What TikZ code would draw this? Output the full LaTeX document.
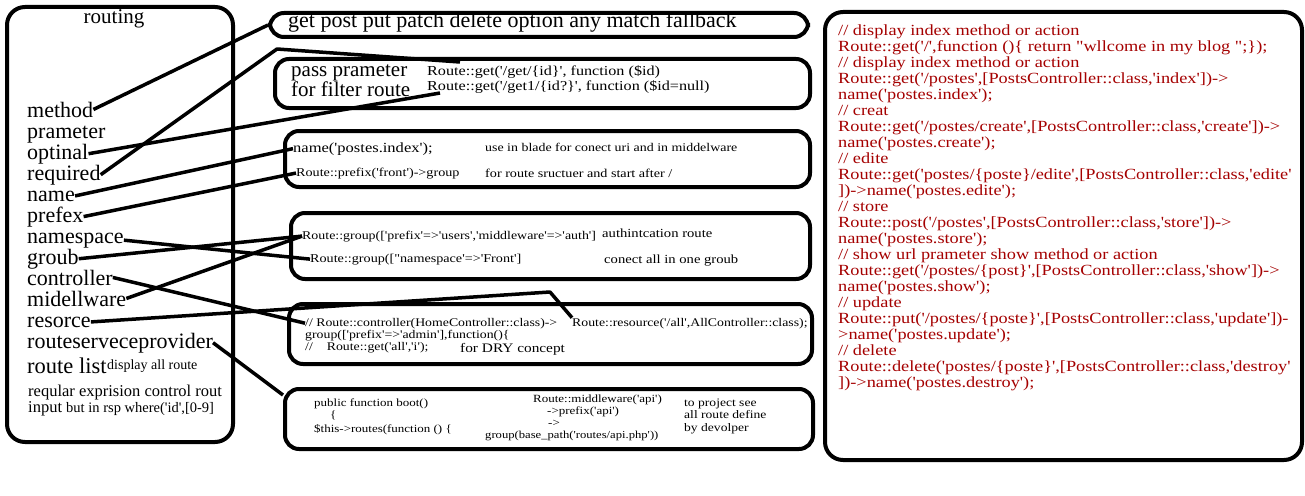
\documentclass[tikz,border=0pt]{standalone}
\usepackage{fontspec}
\setmainfont{Liberation Serif}[Ligatures=TeXOff]
\newfontfamily\wide{Liberation Serif}[FakeStretch=1.18,Ligatures=TeXOff]
\definecolor{codered}{RGB}{165,0,0}
\begin{document}
\begin{tikzpicture}[x=1pt,y=-1pt,
  box/.style={draw=black,line width=4pt,rounded corners=14pt,inner sep=0pt,anchor=north west},
  bigbox/.style={box,rounded corners=18pt},
  lbl/.style={inner sep=0pt,anchor=base west,font=\fontsize{22}{22}\selectfont},
  txt/.style={inner sep=0pt,anchor=base west},
  code/.style={inner sep=0pt,anchor=base west,font=\wide\fontsize{#1}{#1}\selectfont},
  code/.default=12,
  link/.style={draw=black,line width=3.5pt,line join=round}]
\useasboundingbox (0,0) rectangle (1305,495);
\fill[white] (0,0) rectangle (1305,495);

% boxes
\node[bigbox,minimum width=226pt,minimum height=435pt] (left) at (5,5) {};
\node[box,minimum width=538pt,minimum height=24pt] (b1) at (268,11) {};
\node[box,minimum width=535pt,minimum height=49pt] (b2) at (273,57) {};
\node[box,minimum width=525pt,minimum height=56pt] (b3) at (283,129) {};
\node[box,minimum width=519pt,minimum height=66pt] (b4) at (289,211) {};
\node[box,minimum width=523pt,minimum height=60pt] (b5) at (287,302) {};
\node[box,minimum width=528pt,minimum height=60pt] (b6) at (283,387) {};
\node[bigbox,minimum width=477pt,minimum height=448pt] (right) at (823,10) {};

% left panel
\node[inner sep=0pt,anchor=base,font=\fontsize{21}{21}\selectfont] (routing) at (114,24) {routing};
\node[lbl] (method) at (27,117) {method};
\node[lbl] (prameter) at (27,138) {prameter};
\node[lbl] (optinal) at (27,159) {optinal};
\node[lbl] (required) at (27,180) {required};
\node[lbl] (name) at (27,201) {name};
\node[lbl] (prefex) at (27,222) {prefex};
\node[lbl] (namespace) at (27,243) {namespace};
\node[lbl] (groub) at (27,264) {groub};
\node[lbl] (controller) at (27,285) {controller};
\node[lbl] (midellware) at (27,306) {midellware};
\node[lbl] (resorce) at (27,327) {resorce};
\node[lbl] (provider) at (27,348) {routeserveceprovider};
\node[txt,font=\fontsize{22.5}{22.5}\selectfont] (routelist) at (27,373) {route list};
\node[txt,font=\fontsize{14}{14}\selectfont] (displayall) at (107,369) {display all route};
\node[txt,font=\fontsize{16.5}{16.5}\selectfont] (regex1) at (28,396) {reqular exprision control rout};
\node[txt,font=\fontsize{16.5}{16.5}\selectfont] (regex2) at (28,412) {input {\fontsize{14.5}{14.5}\selectfont but in rsp where('id',[0-9]}};

% box 1
\node[txt,font=\fontsize{22}{22}\selectfont] (methods) at (288,28) {get post put patch delete option any match fallback};
% box 2
\node[txt,font=\fontsize{21}{21}\selectfont] (pass) at (291,76) {pass prameter};
\node[txt,font=\fontsize{21}{21}\selectfont] (filter) at (291,96) {for filter route};
\node[code=13.7] (rg1) at (427,75) {Route::get('/get/\{id\}', function (\$id)};
\node[code=13.7] (rg2) at (427,90) {Route::get('/get1/\{id?\}', function (\$id=null)};
% box 3
\node[code=14] (nm) at (293,152) {name('postes.index');};
\node[code=11.8] (blade) at (485,151) {use in blade for conect uri and in middelware};
\node[code=12] (pf) at (296,176) {Route::prefix('front')->group};
\node[code=12] (struct) at (485,177) {for route sructuer and start after /};
% box 4
\node[code=11.8] (gp) at (302,239) {Route::group(['prefix'=>'users','middleware'=>'auth']};
\node[code=12.4] (auth) at (602,237) {authintcation route};
\node[code=12] (ns) at (310,262) {Route::group(["namespace'=>'Front']};
\node[code=12.4] (onegroub) at (604,263) {conect all in one groub};
% box 5
\node[code=11.7] (ctl) at (305,326) {// Route::controller(HomeController::class)->};
\node[code=11.7] (res) at (572,326) {Route::resource('/all',AllController::class);};
\node[code=11.7] (grp) at (305,338) {group(['prefix'=>'admin'],function()\{};
\node[code=11.7] (rget) at (305,350) {//\hspace{14pt}Route::get('all','i');};
\node[code=13] (dry) at (460,352) {for DRY concept};
% box 6
\node[code=11] (boot) at (314,406) {public function boot()};
\node[code=11] (brace) at (330,418) {\{};
\node[code=11] (this) at (314,432) {\$this->routes(function () \{};
\node[code=11] (mw) at (533,402) {Route::middleware('api')};
\node[code=11] (pre) at (547,414) {->prefix('api')};
\node[code=11] (arr) at (548,426) {->};
\node[code=10.7] (gb) at (485,438) {group(base\_path('routes/api.php'))};
\node[code=11.5] (see) at (684,406) {to project see};
\node[code=11.5] (define) at (684,418) {all route define};
\node[code=11.5] (devolper) at (684,431) {by devolper};

% right panel
\node[inner sep=0pt,anchor=north west,align=left,text=codered,
  font=\wide\fontsize{15.5}{16}\selectfont] (routes) at (838,25) {%
// display index method or action\\
Route::get('/',function ()\{ return "wllcome in my blog ";\});\\
// display index method or action\\
Route::get('/postes',[PostsController::class,'index'])->\\
name('postes.index');\\
// creat\\
Route::get('/postes/create',[PostsController::class,'create'])->\\
name('postes.create');\\
// edite\\
Route::get('postes/\{poste\}/edite',[PostsController::class,'edite'\\
])->name('postes.edite');\\
// store\\
Route::post('/postes',[PostsController::class,'store'])->\\
name('postes.store');\\
// show url prameter show method or action\\
Route::get('/postes/\{post\}',[PostsController::class,'show'])->\\
name('postes.show');\\
// update\\
Route::put('/postes/\{poste\}',[PostsController::class,'update'])-\\
>name('postes.update');\\
// delete\\
Route::delete('postes/\{poste\}',[PostsController::class,'destroy'\\
])->name('postes.destroy');};

% connector end points
\coordinate (reqA) at (277,49);
\coordinate (reqB) at (460,62);
\coordinate (optEnd) at (440,93);
\coordinate (resA) at (550,292);
\coordinate (provEnd) at (283,395);

% connectors
\draw[link] (method.east) -- (b1.west);
\draw[link] (required.east) -- (reqA) -- (reqB);
\draw[link] (optinal.east) -- (optEnd);
\draw[link] (name.east) -- (nm.west);
\draw[link] (prefex.east) -- (pf.west);
\draw[link] (namespace.east) -- (ns.west);
\draw[link] (groub.east) -- (gp.west);
\draw[link] (midellware.east) -- (gp.west);
\draw[link] (controller.east) -- (ctl.west);
\draw[link] (resorce.east) -- (resA) -- (res.north west);
\draw[link] (provider.east) -- (provEnd);
\end{tikzpicture}
\end{document}
